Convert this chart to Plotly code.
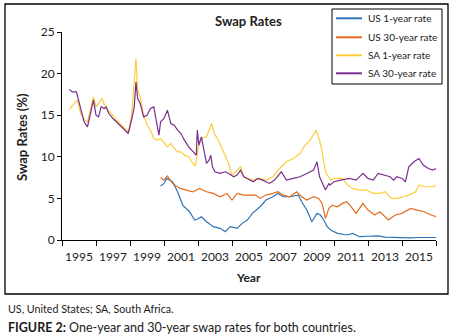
import plotly.graph_objects as go

# ---------------- data ----------------
sa30_year = [1994.43, 1994.6, 1994.85, 1995.1, 1995.3, 1995.5, 1995.65, 1995.85, 1996.0, 1996.15,
             1996.3, 1996.5, 1996.6, 1996.75, 1997.0, 1997.3, 1997.6, 1997.9, 1998.1, 1998.25,
             1998.35, 1998.45, 1998.6, 1998.8, 1999.0, 1999.2, 1999.4, 1999.55, 1999.7, 1999.8,
             2000.0, 2000.2, 2000.4, 2000.6, 2000.8, 2001.0, 2001.2, 2001.45, 2001.7, 2001.9,
             2001.96, 2002.05, 2002.2, 2002.35, 2002.5, 2002.65, 2002.75, 2002.85, 2003.0, 2003.3,
             2003.6, 2003.8, 2004.1, 2004.3, 2004.5, 2004.7, 2004.9, 2005.25, 2005.5, 2005.8,
             2006.2, 2006.5, 2006.9, 2007.2, 2007.6, 2008.0, 2008.4, 2008.8, 2009.0, 2009.15,
             2009.5, 2009.7, 2009.76, 2010.0, 2010.4, 2010.9, 2011.3, 2011.7, 2012.0, 2012.3,
             2012.6, 2012.9, 2013.3, 2013.5, 2013.7, 2014.0, 2014.2, 2014.4, 2014.7, 2015.0,
             2015.25, 2015.55, 2015.8, 2016.04]
sa30_rate = [18.1, 17.8, 17.8, 15.6, 14.2, 13.6, 15.0, 16.8, 15.0, 14.8,
             16.0, 15.8, 16.0, 15.2, 14.6, 14.0, 13.4, 12.8, 14.5, 16.0,
             19.0, 17.0, 16.4, 14.8, 15.0, 15.8, 16.0, 14.5, 12.6, 14.2,
             14.6, 15.6, 14.0, 13.8, 13.2, 12.8, 12.0, 11.2, 10.6, 10.2,
             13.2, 11.4, 12.4, 11.0, 9.2, 9.6, 10.2, 8.8, 8.2, 8.0,
             8.2, 8.0, 7.6, 7.8, 8.4, 7.6, 7.4, 7.0, 7.4, 7.2,
             6.8, 7.2, 8.2, 7.2, 7.4, 7.6, 8.0, 8.4, 9.4, 7.6,
             6.0, 6.8, 6.6, 7.0, 7.2, 7.4, 7.2, 8.0, 7.4, 7.2,
             8.0, 7.8, 7.6, 7.2, 7.6, 7.4, 7.0, 8.8, 9.4, 9.8,
             9.0, 8.6, 8.4, 8.6]

sa1_year = [1994.43, 1994.7, 1994.9, 1995.1, 1995.3, 1995.5, 1995.7, 1995.85, 1996.0, 1996.2,
            1996.35, 1996.55, 1996.8, 1997.1, 1997.4, 1997.7, 1997.9, 1998.1, 1998.25, 1998.35,
            1998.45, 1998.6, 1998.8, 1999.0, 1999.2, 1999.4, 1999.6, 1999.8, 2000.2, 2000.4,
            2000.6, 2000.8, 2001.0, 2001.2, 2001.45, 2001.7, 2001.85, 2002.0, 2002.2, 2002.5,
            2002.8, 2002.95, 2003.2, 2003.4, 2003.6, 2003.8, 2004.0, 2004.3, 2004.5, 2004.7,
            2004.9, 2005.25, 2005.6, 2006.0, 2006.4, 2006.8, 2007.2, 2007.6, 2008.0, 2008.3,
            2008.6, 2008.94, 2009.15, 2009.3, 2009.5, 2009.8, 2010.1, 2010.5, 2010.8, 2011.1,
            2011.5, 2011.9, 2012.3, 2012.7, 2013.0, 2013.4, 2013.7, 2014.1, 2014.4, 2014.8,
            2015.0, 2015.4, 2015.8, 2016.04]
sa1_rate = [15.7, 16.4, 16.8, 15.2, 14.5, 14.2, 16.0, 17.2, 16.0, 16.5,
            17.0, 16.0, 15.4, 14.8, 14.0, 13.4, 13.0, 15.0, 19.0, 21.8,
            18.0, 17.2, 15.0, 13.8, 13.2, 12.2, 12.0, 12.2, 11.2, 11.6,
            11.0, 10.6, 10.6, 10.2, 10.0, 9.2, 8.9, 11.0, 12.2, 12.4,
            14.0, 12.8, 12.0, 11.0, 10.2, 9.2, 7.8, 8.4, 8.8, 7.6,
            7.4, 7.2, 7.4, 7.2, 7.6, 8.6, 9.4, 9.8, 10.4, 11.4,
            12.0, 13.2, 12.0, 10.6, 8.2, 7.2, 7.4, 7.4, 6.6, 6.2,
            6.0, 6.0, 5.6, 5.6, 5.8, 5.0, 5.0, 5.2, 5.4, 5.8,
            6.6, 6.4, 6.4, 6.6]

us30_year = [1999.8, 2000.0, 2000.2, 2000.5, 2000.94, 2001.3, 2001.7, 2002.1, 2002.5, 2002.9,
             2003.3, 2003.7, 2004.0, 2004.3, 2004.7, 2005.0, 2005.4, 2005.65, 2006.0, 2006.4,
             2006.7, 2007.0, 2007.4, 2007.8, 2008.1, 2008.4, 2008.8, 2009.1, 2009.3, 2009.5,
             2009.7, 2009.9, 2010.2, 2010.5, 2010.75, 2011.0, 2011.3, 2011.7, 2012.0, 2012.4,
             2012.7, 2013.2, 2013.6, 2014.0, 2014.5, 2014.9, 2015.3, 2015.7, 2016.04]
us30_rate = [7.5, 7.2, 7.7, 6.8, 6.2, 6.0, 5.8, 6.2, 5.8, 5.6,
             5.2, 5.6, 4.8, 5.6, 5.4, 5.4, 5.4, 5.0, 5.4, 5.6,
             5.8, 5.4, 5.2, 5.8, 5.2, 4.8, 5.2, 5.0, 4.4, 2.6,
             3.8, 4.2, 4.0, 4.4, 4.6, 4.0, 3.2, 4.4, 3.6, 3.0,
             3.4, 2.4, 3.0, 3.2, 3.8, 3.6, 3.4, 3.0, 2.8]

us1_year = [1999.8, 2000.0, 2000.16, 2000.5, 2000.8, 2001.1, 2001.5, 2001.8, 2001.95, 2002.2,
            2002.5, 2002.9, 2003.3, 2003.6, 2003.9, 2004.3, 2004.6, 2004.9, 2005.2, 2005.65,
            2006.0, 2006.4, 2006.7, 2007.0, 2007.4, 2007.9, 2008.1, 2008.4, 2008.7, 2009.0,
            2009.2, 2009.4, 2009.6, 2009.8, 2010.2, 2010.75, 2011.1, 2011.5, 2012.0, 2012.6,
            2013.0, 2013.5, 2014.0, 2014.5, 2015.0, 2015.5, 2016.04]
us1_rate = [6.5, 6.8, 7.4, 7.0, 5.8, 4.2, 3.4, 2.4, 2.5, 2.8,
            2.2, 1.6, 1.4, 1.0, 1.6, 1.4, 2.0, 2.4, 3.2, 4.0,
            4.8, 5.2, 5.6, 5.2, 5.2, 5.4, 4.6, 3.6, 2.2, 3.2,
            3.0, 2.4, 1.6, 1.2, 0.8, 0.6, 0.8, 0.4, 0.45, 0.5,
            0.35, 0.3, 0.3, 0.25, 0.3, 0.3, 0.3]

label_years = [1995, 1997, 1999, 2001, 2003, 2005, 2007, 2009, 2011, 2013, 2015]
tick_years = [1994, 1996, 1998, 2000, 2002, 2004, 2006, 2008, 2010, 2012, 2014, 2016]
y_ticks = [0, 5, 10, 15, 20, 25]

# ---------------- figure ----------------
FONT = "Lato, 'Open Sans', sans-serif"
TXT = "#222222"
series = [
    ("US 1-year rate", us1_year, us1_rate, "#2E75B6"),
    ("US 30-year rate", us30_year, us30_rate, "#E46C1E"),
    ("SA 1-year rate", sa1_year, sa1_rate, "#FFCB3A"),
    ("SA 30-year rate", sa30_year, sa30_rate, "#7A2E8E"),
]

fig = go.Figure()
for name, xs, ys, col in series:
    fig.add_trace(go.Scatter(x=xs, y=ys, mode="lines", name=name, showlegend=False,
                             line=dict(color=col, width=1.2)))

# plot area in pixels: x 62..436, y 32..240
L, R, T, B = 62, 436, 32, 240
W, H = R - L, B - T


def px(x):
    return (x - L) / W


def py(y):
    return (B - y) / H


fig.update_layout(
    width=451, height=334,
    margin=dict(l=L, r=451 - R, t=T, b=334 - B, pad=0),
    paper_bgcolor="white", plot_bgcolor="white",
    font=dict(family=FONT, size=12, color=TXT),
    showlegend=False,
    xaxis=dict(range=[1994, 2016], tickmode="array", tickvals=label_years,
               ticktext=[str(y) for y in label_years], ticks="", ticklabelstandoff=6,
               showline=True, linecolor="black", linewidth=1, showgrid=False,
               zeroline=False, tickfont=dict(size=12), automargin=False,
               minor=dict(tickmode="array", tickvals=tick_years, ticks="outside",
                          ticklen=5, tickcolor="black", showgrid=False)),
    yaxis=dict(range=[0, 25], tickmode="array", tickvals=y_ticks, ticks="outside",
               ticklen=4, tickcolor="black", showline=True, linecolor="black",
               linewidth=1, showgrid=False, zeroline=False, tickfont=dict(size=12),
               automargin=False),
)

# outer chart border
fig.add_shape(type="rect", xref="paper", yref="paper",
              x0=px(5), x1=px(448), y0=py(294), y1=py(4),
              line=dict(color="black", width=1.3), fillcolor="rgba(0,0,0,0)")

# manual legend (box, line samples, labels)
fig.add_shape(type="rect", xref="paper", yref="paper",
              x0=px(332), x1=px(442), y0=py(84), y1=py(9),
              line=dict(color="black", width=1), fillcolor="white")
leg_rows = [18.3, 37.3, 55.3, 73.3]
for (name, xs, ys, col), ry in zip(series, leg_rows):
    fig.add_shape(type="line", xref="paper", yref="paper",
                  x0=px(336), x1=px(362), y0=py(ry), y1=py(ry),
                  line=dict(color=col, width=2))
    fig.add_annotation(xref="paper", yref="paper", showarrow=False,
                       x=px(366), y=py(ry), xanchor="left", yanchor="middle",
                       text=name, font=dict(size=10, color=TXT))

ann = [
    dict(text="<b>Swap Rates</b>", x=px(248), y=py(21), font=dict(size=13, color=TXT)),
    dict(text="<b>Swap Rates (%)</b>", x=px(22), y=py(137), textangle=-90,
         font=dict(size=13, color=TXT)),
    dict(text="<b>Year</b>", x=px(248), y=py(277), font=dict(size=12, color=TXT)),
]
for a in ann:
    fig.add_annotation(xref="paper", yref="paper", showarrow=False,
                       xanchor="center", yanchor="middle", **a)

fig.add_annotation(xref="paper", yref="paper", showarrow=False,
                   x=px(6), y=py(308), xanchor="left", yanchor="middle",
                   text="US, United States; SA, South Africa.",
                   font=dict(size=10.7, color="#1a1a1a"))
fig.add_annotation(xref="paper", yref="paper", showarrow=False,
                   x=px(6), y=py(327), xanchor="left", yanchor="middle",
                   text="<b>FIGURE 2:</b> One-year and 30-year swap rates for both countries.",
                   font=dict(size=12.5, color="#1a1a1a"))

fig.write_html(
    "out.html",
    config={"displayModeBar": False},
    post_script="document.body.style.margin='0';document.body.style.overflow='hidden';",
)
